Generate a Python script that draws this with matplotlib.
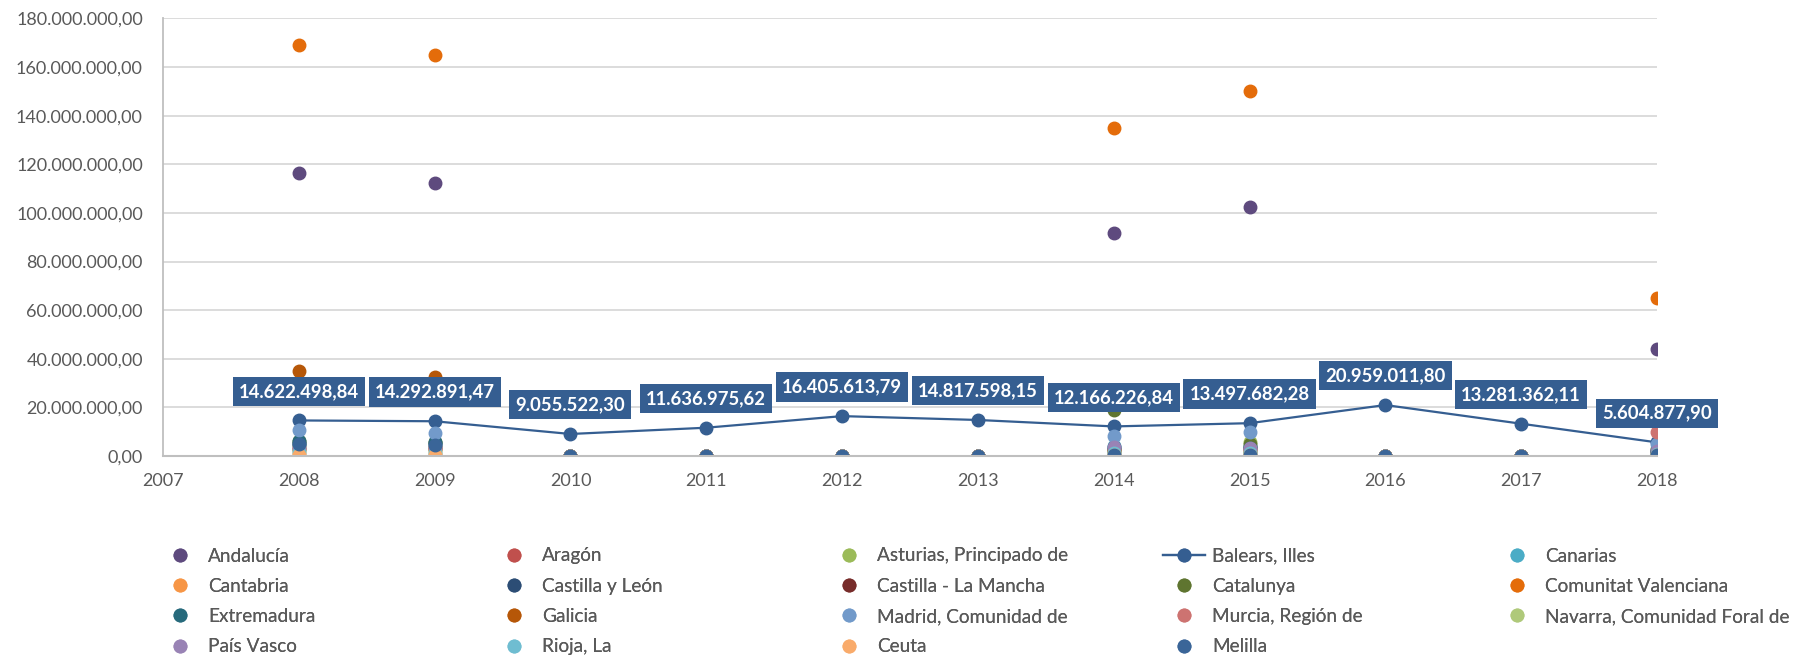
import numpy as np
import matplotlib
matplotlib.use("Agg")
import matplotlib.pyplot as plt
from matplotlib.ticker import FuncFormatter, MultipleLocator

plt.rcParams['font.family'] = ['Lato', 'DejaVu Sans']

years = [2008, 2009, 2010, 2011, 2012, 2013, 2014, 2015, 2016, 2017, 2018]

regions = ["Andalucía", "Aragón", "Asturias, Principado de", "Balears, Illes", "Canarias",
           "Cantabria", "Castilla y León", "Castilla - La Mancha", "Catalunya", "Comunitat Valenciana",
           "Extremadura", "Galicia", "Madrid, Comunidad de", "Murcia, Región de", "Navarra, Comunidad Foral de",
           "País Vasco", "Rioja, La", "Ceuta", "Melilla"]

colors = ["#5E4A7E", "#C0504D", "#9BBB59", "#355E91", "#4BACC6",
          "#F79646", "#2C4D75", "#772C2A", "#5F7530", "#E46C0A",
          "#276A7C", "#B65708", "#729ACA", "#CD7371", "#AFC97A",
          "#9983B5", "#6FBDD1", "#F9AB6B", "#3A6598"]

# values in euros, years 2008..2018
andalucia = [116.3e6, 112.3e6, 0, 0, 0, 0, 91.6e6, 102.4e6, 0, 0, 43.9e6]
aragon = [4.5e6, 4.2e6, 0, 0, 0, 0, 3.0e6, 3.2e6, 0, 0, 2.0e6]
asturias = [4.0e6, 3.8e6, 0, 0, 0, 0, 2.5e6, 5.9e6, 0, 0, 1.5e6]
balears = [14622498.84, 14292891.47, 9055522.30, 11636975.62, 16405613.79, 14817598.15,
           12166226.84, 13497682.28, 20959011.80, 13281362.11, 5604877.90]
canarias = [5.0e6, 4.8e6, 0, 0, 0, 0, 4.0e6, 4.2e6, 0, 0, 2.5e6]
cantabria = [1.0e6, 1.0e6, 0, 0, 0, 0, 0.8e6, 0.8e6, 0, 0, 0.5e6]
castilla_leon = [5.5e6, 5.2e6, 0, 0, 0, 0, 3.5e6, 3.8e6, 0, 0, 2.2e6]
castilla_mancha = [3.0e6, 2.8e6, 0, 0, 0, 0, 2.0e6, 2.2e6, 0, 0, 1.2e6]
catalunya = [6.0e6, 5.8e6, 0, 0, 0, 0, 18.9e6, 5.0e6, 0, 0, 3.0e6]
valenciana = [169.0e6, 164.8e6, 0, 0, 0, 0, 135.0e6, 150.3e6, 0, 0, 64.9e6]
extremadura = [6.0e6, 5.6e6, 0, 0, 0, 0, 3.0e6, 3.2e6, 0, 0, 1.8e6]
galicia = [35.0e6, 32.5e6, 0, 0, 0, 0, 0, 0, 0, 0, 0]
madrid = [10.7e6, 9.6e6, 0, 0, 0, 0, 8.4e6, 9.7e6, 0, 0, 4.9e6]
murcia = [3.0e6, 2.9e6, 0, 0, 0, 0, 2.6e6, 2.8e6, 0, 0, 9.7e6]
navarra = [2.0e6, 2.0e6, 0, 0, 0, 0, 1.5e6, 1.6e6, 0, 0, 1.0e6]
pais_vasco = [3.8e6, 3.7e6, 0, 0, 0, 0, 3.6e6, 3.4e6, 0, 0, 2.0e6]
rioja = [1.5e6, 1.4e6, 0, 0, 0, 0, 1.2e6, 1.2e6, 0, 0, 0.8e6]
ceuta = [0.4e6, 0.4e6, 0, 0, 0, 0, 0.5e6, 0.5e6, 0, 0, 0.4e6]
melilla = [4.8e6, 4.6e6, 0, 0, 0, 0, 0.4e6, 0.4e6, 0, 0, 0.4e6]

series = [andalucia, aragon, asturias, balears, canarias, cantabria, castilla_leon,
          castilla_mancha, catalunya, valenciana, extremadura, galicia, madrid, murcia,
          navarra, pais_vasco, rioja, ceuta, melilla]


def es_fmt(v, pos=None):
    s = f"{v:,.2f}"
    return s.replace(',', 'X').replace('.', ',').replace('X', '.')


fig = plt.figure(figsize=(18.02, 6.56), dpi=100)
ax = fig.add_axes([163 / 1802, 1 - 456 / 656, (1657 - 163) / 1802, (456 - 18.4) / 656])

handles = []
for name, vals, c in zip(regions, series, colors):
    if name == "Balears, Illes":
        h, = ax.plot(years, vals, color=c, lw=1.6, marker='o', ms=9, zorder=2)
    else:
        h, = ax.plot(years, vals, ls='none', color=c, marker='o', ms=9, zorder=2)
    handles.append(h)

for x, v in zip(years, balears):
    ax.annotate(es_fmt(v), (x, v), xytext=(0, 21), textcoords='offset points',
                ha='center', va='center', fontsize=13.3, fontweight='bold', color='white',
                bbox=dict(boxstyle='square,pad=0.33', fc='#355E91', ec='none'), zorder=5)

ax.set_xlim(2007, 2018)
ax.set_ylim(0, 180e6)
ax.xaxis.set_major_locator(MultipleLocator(1))
ax.yaxis.set_major_locator(MultipleLocator(20e6))
ax.yaxis.set_major_formatter(FuncFormatter(es_fmt))
ax.xaxis.set_major_formatter(FuncFormatter(lambda v, p: f"{int(round(v))}"))
ax.grid(axis='y', color='#D9D9D9', lw=1.3)
ax.set_axisbelow(True)
for s in ['top', 'right']:
    ax.spines[s].set_visible(False)
ax.spines['left'].set_color('#BFBFBF')
ax.spines['bottom'].set_color('#BFBFBF')
ax.spines['left'].set_linewidth(1.3)
ax.spines['bottom'].set_linewidth(1.5)
ax.tick_params(axis='both', length=0, labelsize=13, labelcolor='#595959')
ax.tick_params(axis='y', pad=14.5)
ax.tick_params(axis='x', pad=12)

# legend: 5 columns laid out at equal spacing
col_x = [159.1, 493.1, 828.1, 1163.1, 1496.1]
nrows = 4
for ci, x0 in enumerate(col_x):
    idx = [r * 5 + ci for r in range(nrows) if r * 5 + ci < len(regions)]
    leg = fig.legend([handles[i] for i in idx], [regions[i] for i in idx],
                     loc='upper left', bbox_to_anchor=(x0 / 1802, 1 - 547.5 / 656),
                     frameon=False, fontsize=13.7, labelcolor='#595959',
                     handlelength=2.2, handletextpad=0.37, labelspacing=0.70,
                     borderpad=0, borderaxespad=0)
    fig.add_artist(leg)

fig.savefig("out.png", dpi=100)
